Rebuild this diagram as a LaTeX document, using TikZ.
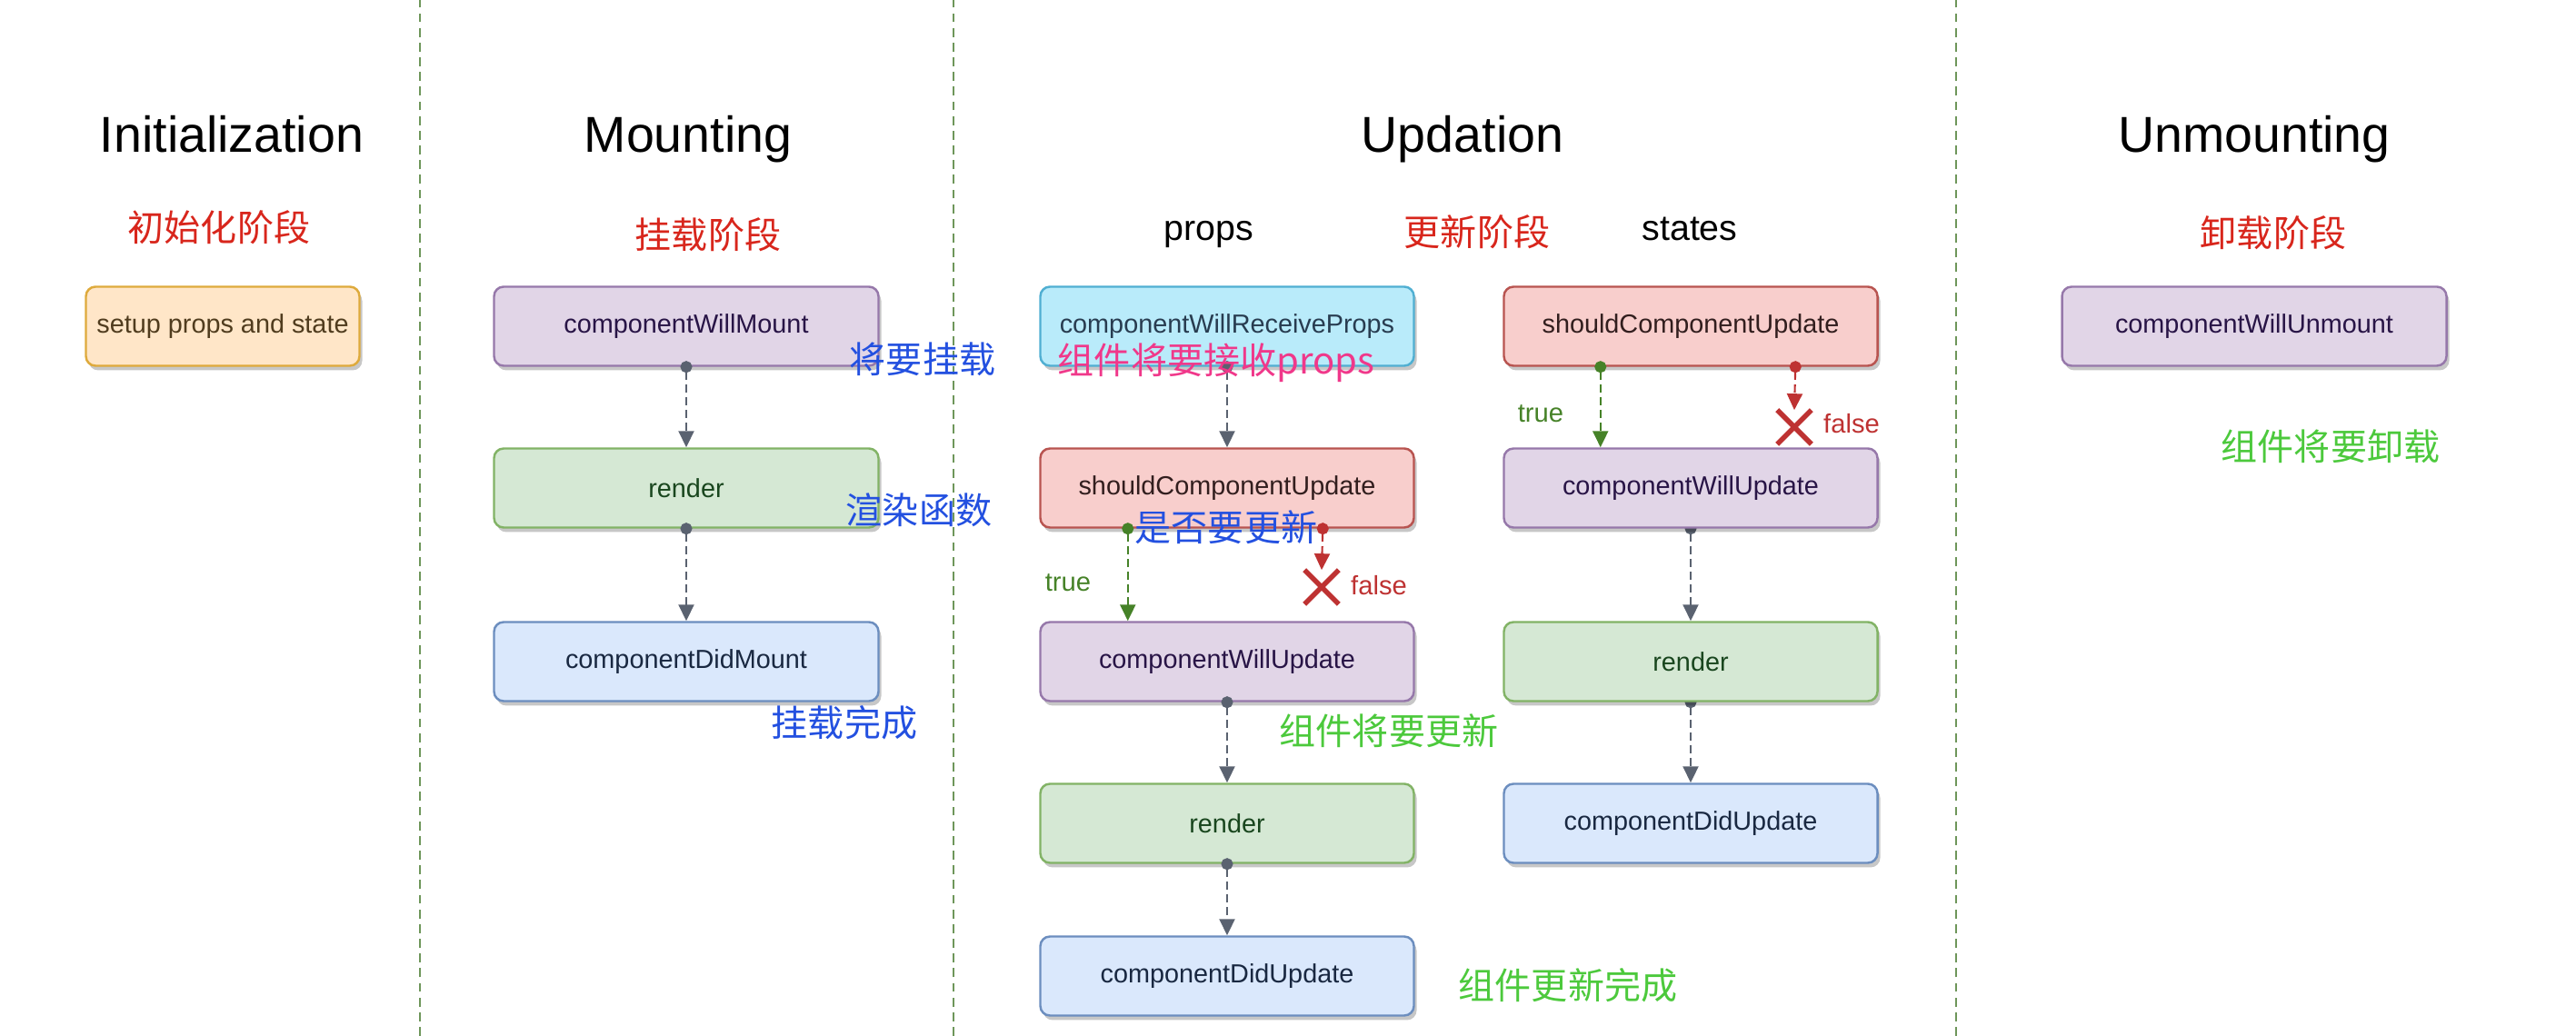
\documentclass[tikz,border=0pt]{standalone}
\usepackage{fontspec}
\setmainfont{Liberation Sans}
\newfontfamily\cjkfont{Noto Sans CJK SC}
\usetikzlibrary{arrows.meta,positioning,shapes.misc,shadows,backgrounds}

\definecolor{setupfill}{RGB}{255,230,200}
\definecolor{setupline}{RGB}{222,170,60}
\definecolor{setuptext}{RGB}{80,60,30}
\definecolor{willfill}{RGB}{225,213,231}
\definecolor{willline}{RGB}{150,120,170}
\definecolor{willtext}{RGB}{40,20,70}
\definecolor{renderfill}{RGB}{213,232,212}
\definecolor{renderline}{RGB}{130,179,102}
\definecolor{rendertext}{RGB}{25,70,30}
\definecolor{didfill}{RGB}{218,232,252}
\definecolor{didline}{RGB}{108,142,191}
\definecolor{didtext}{RGB}{25,40,65}
\definecolor{shouldfill}{RGB}{248,206,204}
\definecolor{shouldline}{RGB}{184,84,80}
\definecolor{shouldtext}{RGB}{50,30,30}
\definecolor{propsfill}{RGB}{185,235,250}
\definecolor{propsline}{RGB}{80,175,210}
\definecolor{propstext}{RGB}{40,60,80}
\definecolor{arrowgrey}{RGB}{90,98,112}
\definecolor{truegreen}{RGB}{70,130,40}
\definecolor{falsered}{RGB}{190,50,50}
\definecolor{stagered}{RGB}{216,38,28}
\definecolor{noteblue}{RGB}{35,80,224}
\definecolor{notepink}{RGB}{240,56,138}
\definecolor{notegreen}{RGB}{76,201,60}
\definecolor{divgreen}{RGB}{110,150,90}

\begin{document}
\begin{tikzpicture}[
    box/.style={draw, rounded corners=3pt, minimum width=4.11cm, minimum height=0.87cm, line width=0.7pt,
        font=\fontsize{8.2}{10}\selectfont,
        drop shadow={shadow xshift=0.03cm, shadow yshift=-0.05cm, fill=black, opacity=0.22}},
    setupbox/.style={box, fill=setupfill, draw=setupline, text=setuptext, minimum width=3.01cm},
    willbox/.style={box, fill=willfill, draw=willline, text=willtext},
    renderbox/.style={box, fill=renderfill, draw=renderline, text=rendertext},
    didbox/.style={box, fill=didfill, draw=didline, text=didtext},
    shouldbox/.style={box, fill=shouldfill, draw=shouldline, text=shouldtext},
    propsbox/.style={box, fill=propsfill, draw=propsline, text=propstext},
    flow/.style={draw=arrowgrey, line width=0.6pt, dash pattern=on 2.5pt off 1.5pt,
        {Circle[length=0.13cm]}-{Triangle[length=0.18cm, width=0.17cm]}, shorten <=-0.065cm},
    yesflow/.style={flow, draw=truegreen},
    noflow/.style={flow, draw=falsered},
    nomark/.style={cross out, draw=falsered, line width=1.6pt, minimum width=0.32cm, minimum height=0.32cm, inner sep=0pt},
    title/.style={font=\fontsize{15.8}{18}\selectfont, anchor=base},
    stage/.style={font=\cjkfont\fontsize{11.4}{13}\selectfont, text=stagered},
    note/.style={font=\cjkfont\fontsize{11.4}{13}\selectfont},
    branch/.style={font=\fontsize{8.3}{10}\selectfont},
    divider/.style={draw=divgreen, line width=0.45pt, dash pattern=on 2.8pt off 1.8pt}
]
    \useasboundingbox (0,0) rectangle (28.34,11.40);

    \draw[divider] (4.62,0) -- (4.62,11.40);
    \draw[divider] (10.49,0) -- (10.49,11.40);
    \draw[divider] (21.52,0) -- (21.52,11.40);

    \node[title] (tInit) at (2.55,9.72) {Initialization};
    \node[title] (tMount) at (7.57,9.72) {Mounting};
    \node[title] (tUpd) at (16.09,9.72) {Updation};
    \node[title] (tUnmount) at (24.80,9.72) {Unmounting};

    \node[stage] (sInit) at (2.41,8.90) {初始化阶段};
    \node[stage] (sMount) at (7.79,8.82) {挂载阶段};
    \node[stage] (sUpd) at (16.25,8.85) {更新阶段};
    \node[stage] (sUnmount) at (25.01,8.84) {卸载阶段};
    \node[font=\fontsize{11.2}{13}\selectfont, anchor=base] (lProps) at (13.30,8.75) {props};
    \node[font=\fontsize{11.2}{13}\selectfont, anchor=base] (lStates) at (18.59,8.75) {states};

    \node[setupbox] (setup) at (2.45,7.81) {setup props and state};

    \node[willbox, minimum width=4.23cm] (willMount) at (7.55,7.81) {componentWillMount};
    \node[renderbox, minimum width=4.23cm] (renderM) at (7.55,6.03) {render};
    \node[didbox, minimum width=4.23cm] (didMount) at (7.55,4.12) {componentDidMount};

    \node[propsbox] (receiveP) at (13.50,7.81) {componentWillReceiveProps};
    \node[shouldbox] (shouldP) at (13.50,6.03) {shouldComponentUpdate};
    \node[willbox] (willP) at (13.50,4.12) {componentWillUpdate};
    \node[renderbox] (renderP) at (13.50,2.34) {render};
    \node[didbox] (didP) at (13.50,0.66) {componentDidUpdate};

    \node[shouldbox] (shouldS) at (18.60,7.81) {shouldComponentUpdate};
    \node[willbox] (willS) at (18.60,6.03) {componentWillUpdate};
    \node[renderbox] (renderS) at (18.60,4.12) {render};
    \node[didbox] (didS) at (18.60,2.34) {componentDidUpdate};

    \node[willbox, minimum width=4.23cm] (willUnmount) at (24.80,7.81) {componentWillUnmount};

    \node[nomark] (noP) at (14.54,4.94) {};
    \node[nomark] (noS) at (19.74,6.70) {};

    \draw[flow] (willMount.south) -- (renderM.north);
    \draw[flow] (renderM.south) -- (didMount.north);
    \draw[flow] (receiveP.south) -- (shouldP.north);
    \draw[yesflow] ([xshift=0.975cm]shouldP.south west) -- ([xshift=0.975cm]willP.north west);
    \draw[noflow] ([xshift=-1.015cm]shouldP.south east) -- (noP.north);
    \draw[flow] (willP.south) -- (renderP.north);
    \draw[flow] (renderP.south) -- (didP.north);
    \draw[yesflow] ([xshift=1.075cm]shouldS.south west) -- ([xshift=1.075cm]willS.north west);
    \draw[noflow] ([xshift=-0.915cm]shouldS.south east) -- (noS.north);
    \begin{scope}[on background layer]
        \draw[flow] (willS.south) -- (renderS.north);
        \draw[flow] (renderS.south) -- (didS.north);
    \end{scope}

    \node[branch, text=truegreen] (tP) at (11.75,4.99) {true};
    \node[branch, text=falsered] (fP) at (15.17,4.96) {false};
    \node[branch, text=truegreen] (tS) at (16.95,6.85) {true};
    \node[branch, text=falsered] (fS) at (20.37,6.74) {false};

    \node[note, text=noteblue] (nWillMount) at (10.15,7.45) {将要挂载};
    \node[note, text=noteblue] (nRender) at (10.11,5.79) {渲染函数};
    \node[note, text=noteblue] (nDidMount) at (9.29,3.45) {挂载完成};
    \node[note, text=notepink] (nReceive) at (13.38,7.41) {组件将要接收props};
    \node[note, text=noteblue] (nShould) at (13.49,5.60) {是否要更新};
    \node[note, text=notegreen] (nWillUpd) at (15.28,3.36) {组件将要更新};
    \node[note, text=notegreen] (nDidUpd) at (17.25,0.56) {组件更新完成};
    \node[note, text=notegreen] (nUnmount) at (25.64,6.49) {组件将要卸载};
\end{tikzpicture}
\end{document}
